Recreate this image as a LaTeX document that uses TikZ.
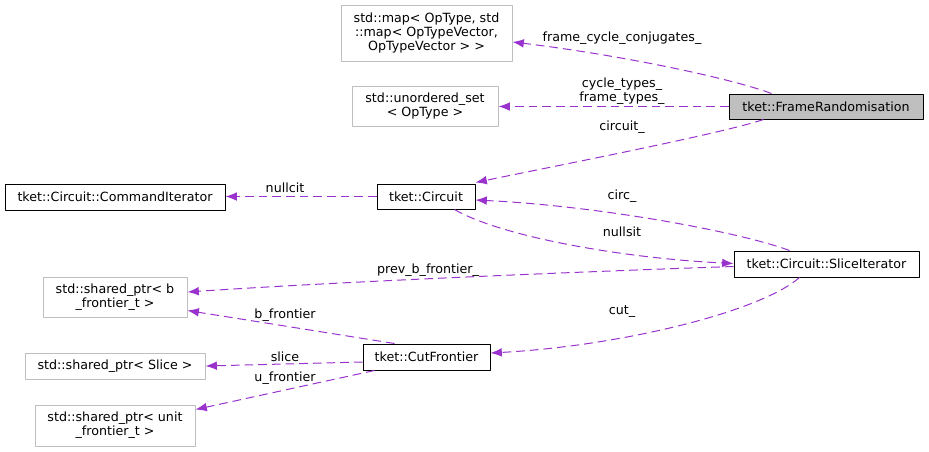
\documentclass[tikz,border=0pt]{standalone}
\usepackage{fontspec}
\setmainfont{DejaVu Sans}
\usetikzlibrary{arrows.meta,calc}
\definecolor{edgecol}{HTML}{9A32CD}
\definecolor{greybox}{HTML}{BFBFBF}
\begin{document}
\begin{tikzpicture}[x=0.75pt,y=-0.75pt,line cap=butt,line join=round]
  \tikzset{
    box/.style={draw=black,fill=white,line width=0.75pt,inner sep=0pt,align=center,
      font=\fontsize{9.5}{10.5}\selectfont},
    extbox/.style={box,draw=greybox},
    mainbox/.style={box,fill=greybox},
    member/.style={draw=edgecol,line width=0.75pt,dash pattern=on 6.5pt off 3.75pt,
      -{Latex[length=8.5pt,width=6.5pt]}},
    lbl/.style={inner sep=0pt,align=center,font=\fontsize{9.5}{10.5}\selectfont},
  }
  \useasboundingbox (0,0) rectangle (929,451);

  % ==================== classes ====================
  \node[mainbox,minimum width=145.5pt,minimum height=18.75pt] (frand) at (826,106.5) {tket::FrameRandomisation};
  \node[extbox,minimum width=128.25pt,minimum height=42pt] (optmap) at (426.5,33)
    {std::map< OpType, std\\::map< OpTypeVector,\\ OpTypeVector > >};
  \node[extbox,minimum width=109.5pt,minimum height=30pt] (optset) at (425,106)
    {std::unordered\_set\\< OpType >};
  \node[box,minimum width=73.5pt,minimum height=18.75pt] (circ) at (426,196.5) {tket::Circuit};
  \node[box,minimum width=165pt,minimum height=19.5pt] (cmdit) at (115,197) {tket::Circuit::CommandIterator};
  \node[box,minimum width=138.75pt,minimum height=19.5pt] (sliceit) at (826.5,264) {tket::Circuit::SliceIterator};
  \node[box,minimum width=95.25pt,minimum height=19.5pt] (cutf) at (426.5,357) {tket::CutFrontier};

  % ==================== shared pointers ====================
  \node[extbox,minimum width=108pt,minimum height=30pt] (bfront) at (115,297)
    {std::shared\_ptr< b\\\_frontier\_t >};
  \node[extbox,minimum width=135pt,minimum height=19.5pt] (sliceptr) at (115,366)
    {std::shared\_ptr< Slice >};
  \node[extbox,minimum width=120pt,minimum height=30.75pt] (ufront) at (115,425.5)
    {std::shared\_ptr< unit\\\_frontier\_t >};

  % ==================== members of FrameRandomisation ====================
  \draw[member] ($(frand.north west)+(43,0)$) .. controls (730,78) and (620,55) .. (optmap.east |- 0,42);
  \node[lbl] (lfcc) at (622,38) {frame\_cycle\_conjugates\_};
  \draw[member] (frand.west) -- (optset.east |- frand.west);
  \node[lbl] (ltypes) at (622,91) {cycle\_types\_\\frame\_types\_};
  \draw[member] ($(frand.south west)+(35,0)$) .. controls (720,134) and (560,165) .. ($(circ.north east)+(0,-1)$);
  \node[lbl] (lcircuit) at (622,127) {circuit\_};

  % ==================== Circuit and its iterators ====================
  \draw[member] (circ.west) -- (cmdit.east |- circ.west);
  \node[lbl] (lnullcit) at (285,188) {nullcit};
  \draw[member] ($(sliceit.north west)+(56,0)$) .. controls (740,232) and (600,206) .. ($(circ.east)+(0,3.5)$);
  \node[lbl] (lcirc) at (622,196) {circ\_};
  \draw[member] ($(circ.south west)+(78,0)$) .. controls (500,236) and (620,258) .. ($(sliceit.west)+(0,-0.5)$);
  \node[lbl] (lnullsit) at (622,232) {nullsit};

  % ==================== members of SliceIterator ====================
  \draw[member] ($(sliceit.west)+(0,2.5)$) .. controls (600,271) and (350,281) .. ($(bfront.east)+(0,-5)$);
  \node[lbl] (lprevb) at (428,270) {prev\_b\_frontier\_};
  \draw[member] ($(sliceit.south west)+(66,0)$) .. controls (760,312) and (620,346) .. ($(cutf.east)+(0,-4)$);
  \node[lbl] (lcut) at (622,312) {cut\_};

  % ==================== members of CutFrontier ====================
  \draw[member] ($(cutf.north west)+(32,0)$) -- ($(bfront.south east)+(0,-7)$);
  \node[lbl] (lbfront) at (285,315) {b\_frontier};
  \draw[member] ($(cutf.west)+(0,5)$) -- (sliceptr.east);
  \node[lbl] (lslice) at (285,357) {slice};
  \draw[member] ($(cutf.south west)+(12,0)$) -- ($(ufront.north east)+(0,5)$);
  \node[lbl] (lufront) at (285,378) {u\_frontier};
\end{tikzpicture}
\end{document}
